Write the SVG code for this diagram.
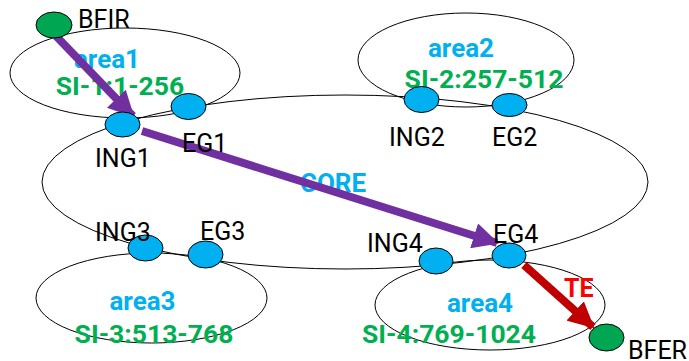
<svg xmlns="http://www.w3.org/2000/svg" width="689" height="361" viewBox="0 0 689 361">
<style>
.area{fill:none;stroke:#000;stroke-width:1}
.blue{fill:#00B0F0;stroke:#000;stroke-width:1}
.green{fill:#00A651;stroke:#000;stroke-width:1}
.lbl{font-family:Roboto,"Liberation Sans",sans-serif;font-size:25px;fill:#000}
.an{font-family:Roboto,"Liberation Sans",sans-serif;font-size:26px;font-weight:bold;fill:#00B0F0;text-anchor:middle}
.si{font-family:Roboto,"Liberation Sans",sans-serif;font-size:26.5px;font-weight:bold;fill:#00B050;text-anchor:middle}
.te{font-family:Roboto,"Liberation Sans",sans-serif;font-size:25px;font-weight:bold;fill:#FF0000}
</style>
<defs>
<marker id="ap" markerUnits="userSpaceOnUse" markerWidth="26" markerHeight="26" viewBox="0 0 26 26" refX="24" refY="13" orient="auto">
<path d="M0,0 L26,13 L0,26 z" fill="#7030A0"/>
</marker>
<marker id="ar" markerUnits="userSpaceOnUse" markerWidth="26" markerHeight="26" viewBox="0 0 26 26" refX="24" refY="13" orient="auto">
<path d="M0,0 L26,13 L0,26 z" fill="#C00000"/>
</marker>
</defs>
<g id="core"><ellipse class="area" cx="345" cy="182" rx="303" ry="87"/><text class="an" x="333" y="192">CORE</text></g>
<g id="area1"><ellipse class="area" cx="125" cy="73" rx="115" ry="45"/><text class="an" x="107" y="68">area1</text><text class="si" x="120" y="95">SI-1:1-256</text></g>
<g id="area2"><ellipse class="area" cx="466" cy="60" rx="108" ry="47"/><text class="an" x="461" y="57">area2</text><text class="si" x="484" y="88">SI-2:257-512</text></g>
<g id="area3"><ellipse class="area" cx="151.5" cy="298" rx="115.5" ry="45"/><text class="an" x="142.5" y="310">area3</text><text class="si" x="154" y="343">SI-3:513-768</text></g>
<g id="area4"><ellipse class="area" cx="490" cy="305" rx="115" ry="45"/><text class="an" x="480" y="312">area4</text><text class="si" x="449" y="343">SI-4:769-1024</text></g>
<g id="connectors">
<line x1="56" y1="36" x2="133" y2="116" stroke="#7030A0" stroke-width="8" marker-end="url(#ap)"/>
<line x1="142" y1="131" x2="497" y2="243" stroke="#7030A0" stroke-width="8" marker-end="url(#ap)"/>
<line x1="524" y1="265" x2="593" y2="327" stroke="#C00000" stroke-width="8" marker-end="url(#ar)"/>
</g>
<g id="BFIR"><ellipse class="green" cx="54" cy="25" rx="18" ry="13"/><text class="lbl" x="78" y="28">BFIR</text></g>
<g id="ING1"><ellipse class="blue" cx="122.5" cy="124.5" rx="17.5" ry="12.5"/><text class="lbl" x="95" y="167">ING1</text></g>
<g id="EG1"><ellipse class="blue" cx="188.5" cy="106.5" rx="17.5" ry="13"/><text class="lbl" x="182" y="152">EG1</text></g>
<g id="ING2"><ellipse class="blue" cx="421.5" cy="99.5" rx="17.5" ry="13"/><text class="lbl" x="389" y="146">ING2</text></g>
<g id="EG2"><ellipse class="blue" cx="509.5" cy="105" rx="17.5" ry="11.5"/><text class="lbl" x="492" y="146">EG2</text></g>
<g id="ING3"><ellipse class="blue" cx="145.5" cy="248" rx="17.5" ry="13"/><text class="lbl" x="95" y="241">ING3</text></g>
<g id="EG3"><ellipse class="blue" cx="205.5" cy="254.5" rx="17.5" ry="13.5"/><text class="lbl" x="200" y="240">EG3</text></g>
<g id="ING4"><ellipse class="blue" cx="436" cy="261" rx="17" ry="13"/><text class="lbl" x="367" y="252">ING4</text></g>
<g id="EG4"><ellipse class="blue" cx="509" cy="255.5" rx="17" ry="12.5"/><text class="lbl" x="493" y="243">EG4</text></g>
<g id="BFER"><ellipse class="green" cx="606.5" cy="337.5" rx="17.5" ry="13.5"/><text class="lbl" x="628" y="359">BFER</text></g>
<text class="te" x="564" y="297">TE</text>
</svg>
